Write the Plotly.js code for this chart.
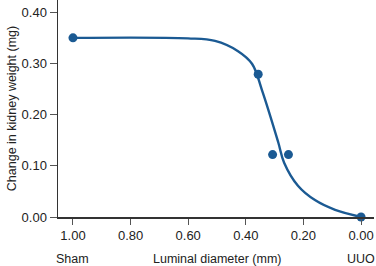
<!DOCTYPE html>
<html>
<head>
<meta charset="utf-8">
<script src="https://cdn.plot.ly/plotly-3.0.1.min.js"></script>
<style>html,body{margin:0;padding:0;background:#fff;}#chart{width:376px;height:266px;}</style>
</head>
<body>
<div id="chart"></div>
<script>
// Measured data points
const pointDiameter = [1.00, 0.357, 0.307, 0.252, 0.00];
const pointWeight = [0.350, 0.279, 0.122, 0.122, 0.000];

// Fitted curve
const curveDiameter = [1.00, 0.601, 0.507, 0.427, 0.378, 0.344, 0.288, 0.267, 0.219, 0.160, 0.090, 0.00];
const curveWeight = [0.350, 0.349, 0.344, 0.324, 0.299, 0.248, 0.147, 0.106, 0.061, 0.033, 0.014, 0.000];

const xTickVals = [1.00, 0.80, 0.60, 0.40, 0.20, 0.00];
const xTickText = ['1.00', '0.80', '0.60', '0.40', '0.20', '0.00'];
const yTickVals = [0.00, 0.10, 0.20, 0.30, 0.40];
const yTickText = ['0.00', '0.10', '0.20', '0.30', '0.40'];

const blue = '#1b5a93';
const tickFont = {family: 'Liberation Sans, Arial, sans-serif', size: 13, color: '#222'};
const labelFont = {family: 'Liberation Sans, Arial, sans-serif', size: 12.5, color: '#222'};

const traces = [
  {x: curveDiameter, y: curveWeight, mode: 'lines', type: 'scatter',
   line: {color: blue, width: 2.4, shape: 'spline', smoothing: 1.0}, hoverinfo: 'skip', cliponaxis: false},
  {x: pointDiameter, y: pointWeight, mode: 'markers', type: 'scatter',
   marker: {color: blue, size: 9}, cliponaxis: false}
];

const layout = {
  width: 376, height: 266,
  margin: {l: 58, r: 2, t: 0, b: 49},
  paper_bgcolor: '#fff', plot_bgcolor: '#fff',
  showlegend: false,
  font: tickFont,
  xaxis: {
    range: [1.052, -0.045], tickvals: xTickVals, ticktext: xTickText,
    showgrid: false, zeroline: false, showline: true, linecolor: '#333', linewidth: 1.5,
    ticks: 'outside', ticklen: 6, tickwidth: 1, tickcolor: '#555', tickfont: tickFont
  },
  yaxis: {
    range: [0, 0.424], tickvals: yTickVals, ticktext: yTickText,
    showgrid: false, zeroline: false, showline: true, linecolor: '#333', linewidth: 1.5,
    ticks: 'outside', ticklen: 7, tickwidth: 1, tickcolor: '#555', tickfont: tickFont,
    title: {text: 'Change in kidney weight (mg)', font: labelFont, standoff: 2}
  },
  annotations: [
    {x: 1.00, xref: 'x', y: -0.194, yref: 'paper', text: 'Sham', showarrow: false, font: labelFont, yanchor: 'middle'},
    {x: 0.00, xref: 'x', y: -0.194, yref: 'paper', text: 'UUO', showarrow: false, font: labelFont, yanchor: 'middle'},
    {x: 0.50, xref: 'x', y: -0.194, yref: 'paper', text: 'Luminal diameter (mm)', showarrow: false, font: labelFont, yanchor: 'middle'}
  ]
};

Plotly.newPlot('chart', traces, layout, {displayModeBar: false, staticPlot: true});
</script>
</body>
</html>
